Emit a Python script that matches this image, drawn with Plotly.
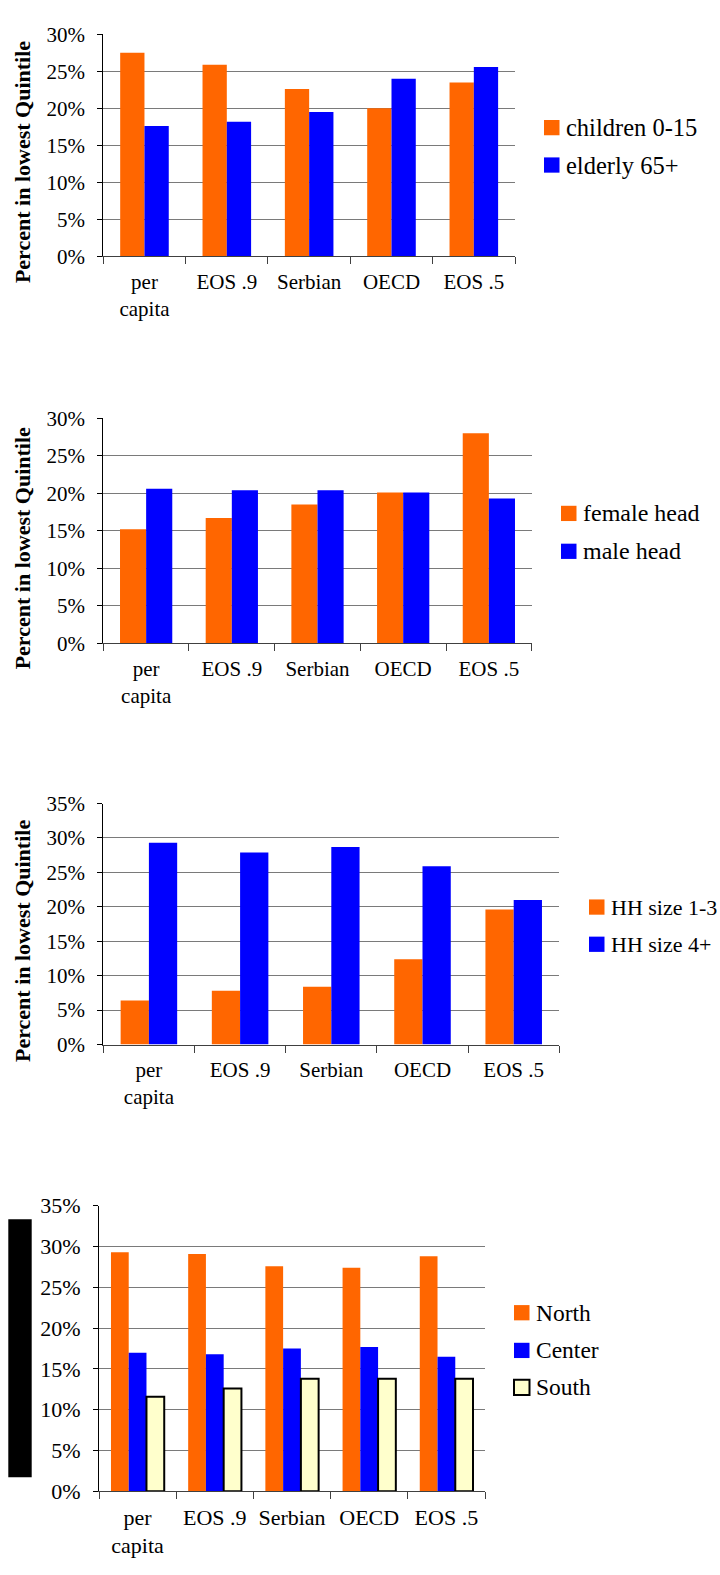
import plotly.graph_objects as go

# ---- data -------------------------------------------------------------
categories = ["per<br>capita", "EOS .9", "Serbian", "OECD", "EOS .5"]

children_0_15 = [27.5, 25.9, 22.6, 20.0, 23.5]
elderly_65 = [17.6, 18.2, 19.5, 24.0, 25.6]

female_head = [15.2, 16.7, 18.5, 20.1, 28.0]
male_head = [20.6, 20.4, 20.4, 20.1, 19.3]

hh_size_1_3 = [6.4, 7.8, 8.4, 12.4, 19.6]
hh_size_4_plus = [29.3, 27.9, 28.7, 25.9, 21.0]

north = [29.3, 29.1, 27.6, 27.4, 28.8]
center = [17.0, 16.8, 17.5, 17.7, 16.5]
south = [11.6, 12.6, 13.8, 13.8, 13.8]

y_title = "Percent in lowest Quintile"

# ---- style ------------------------------------------------------------
W, H = 720, 1575
ORANGE = "#FF6600"
BLUE = "#0000FF"
CREAM = "#FFFFCC"
FONT = "'Liberation Serif', 'Times New Roman', Times, serif"


def px_x(x):
    return x / W


def px_y(y):
    return 1 - y / H


# plot boxes in pixels: (left, top, right, bottom)
panels = [
    dict(series=[("children 0-15", children_0_15, ORANGE, None),
                 ("elderly 65+", elderly_65, BLUE, None)],
         ymax=30, box=(103.3, 22.7, 515.0, 248.3), bar_w=0.295,
         legend_x=544, legend_y=[117.5, 155.5], title_y=152.5,
         tick_size=21, legend_size=24.5),
    dict(series=[("female head", female_head, ORANGE, None),
                 ("male head", male_head, BLUE, None)],
         ymax=30, box=(103.3, 412.7, 531.7, 641.5), bar_w=0.305,
         legend_x=561, legend_y=[509.5, 548.0], title_y=545,
         tick_size=21, legend_size=24),
    dict(series=[("HH size 1-3", hh_size_1_3, ORANGE, None),
                 ("HH size 4+", hh_size_4_plus, BLUE, None)],
         ymax=35, box=(103.3, 804.3, 559.3, 1049.2), bar_w=0.31,
         legend_x=589, legend_y=[909.5, 947.3], title_y=944,
         tick_size=21, legend_size=22),
    dict(series=[("North", north, ORANGE, None),
                 ("Center", center, BLUE, None),
                 ("South", south, CREAM, "black")],
         ymax=35, box=(99.0, 1213.0, 485.0, 1503.2), bar_w=0.23,
         legend_x=514, legend_y=[1321.7, 1360.0, 1397.5], title_y=None,
         tick_size=22, legend_size=23.5),
]

fig = go.Figure()
shapes = []
annotations = []
layout_axes = {}

for i, p in enumerate(panels, start=1):
    xa = "x" if i == 1 else f"x{i}"
    ya = "y" if i == 1 else f"y{i}"
    left, top, right, bottom = p["box"]
    n = len(p["series"])
    w = p["bar_w"]
    for k, (name, vals, color, edge) in enumerate(p["series"]):
        fig.add_trace(go.Bar(
            x=categories, y=vals, name=name,
            xaxis=xa, yaxis=ya,
            width=w, offset=-n * w / 2 + k * w,
            marker=dict(color=color,
                        line=dict(color=edge or color, width=2 if edge else 0)),
            showlegend=False,
        ))

    xkey = "xaxis" if i == 1 else f"xaxis{i}"
    ykey = "yaxis" if i == 1 else f"yaxis{i}"
    layout_axes[xkey] = dict(
        domain=[px_x(left), px_x(right)], anchor=ya,
        type="category", showgrid=False, zeroline=False,
        showline=True, linecolor="#404040", linewidth=1.2,
        ticks="outside", tickson="boundaries", ticklen=7,
        tickcolor="#404040", tickwidth=1.2,
        tickfont=dict(family=FONT, size=p["tick_size"], color="black"),
        ticklabelstandoff=6, fixedrange=True,
    )
    layout_axes[ykey] = dict(
        domain=[px_y(bottom), px_y(top)], anchor=xa,
        range=[0, p["ymax"]], dtick=5, ticksuffix="%",
        showgrid=True, gridcolor="#7a7a7a", gridwidth=1.3,
        zeroline=False, showline=True, linecolor="black", linewidth=1.2,
        ticks="outside", ticklen=5, tickcolor="black",
        tickfont=dict(family=FONT, size=p["tick_size"], color="black"),
        ticklabelstandoff=8, fixedrange=True,
    )

    # legend: swatch + label per series
    for (name, vals, color, edge), cy in zip(p["series"], p["legend_y"]):
        sz = 15.5
        shapes.append(dict(
            type="rect", xref="paper", yref="paper",
            x0=px_x(p["legend_x"]), x1=px_x(p["legend_x"] + sz),
            y0=px_y(cy + sz / 2), y1=px_y(cy - sz / 2),
            fillcolor=color,
            line=dict(color=edge or color, width=2 if edge else 0),
        ))
        annotations.append(dict(
            text=name, xref="paper", yref="paper",
            x=px_x(p["legend_x"] + sz + 4), y=px_y(cy),
            xanchor="left", yanchor="middle", showarrow=False,
            font=dict(family=FONT, size=p["legend_size"], color="black"),
        ))

    if p["title_y"] is not None:
        annotations.append(dict(
            text=f"<b>{y_title}</b>", textangle=-90,
            xref="paper", yref="paper",
            x=px_x(22), y=px_y(p["title_y"]),
            xanchor="center", yanchor="middle", showarrow=False,
            font=dict(family=FONT, size=22, color="black"),
        ))

# solid block beside the last panel's value axis
shapes.append(dict(
    type="rect", xref="paper", yref="paper",
    x0=px_x(8.3), x1=px_x(31.7), y0=px_y(1489), y1=px_y(1226.7),
    fillcolor="black", line=dict(width=0),
))

fig.update_layout(
    width=W, height=H,
    margin=dict(l=0, r=0, t=0, b=0),
    paper_bgcolor="white", plot_bgcolor="white",
    barmode="overlay",
    font=dict(family=FONT, color="black"),
    shapes=shapes, annotations=annotations,
    **layout_axes,
)

fig.write_html("out.html")
